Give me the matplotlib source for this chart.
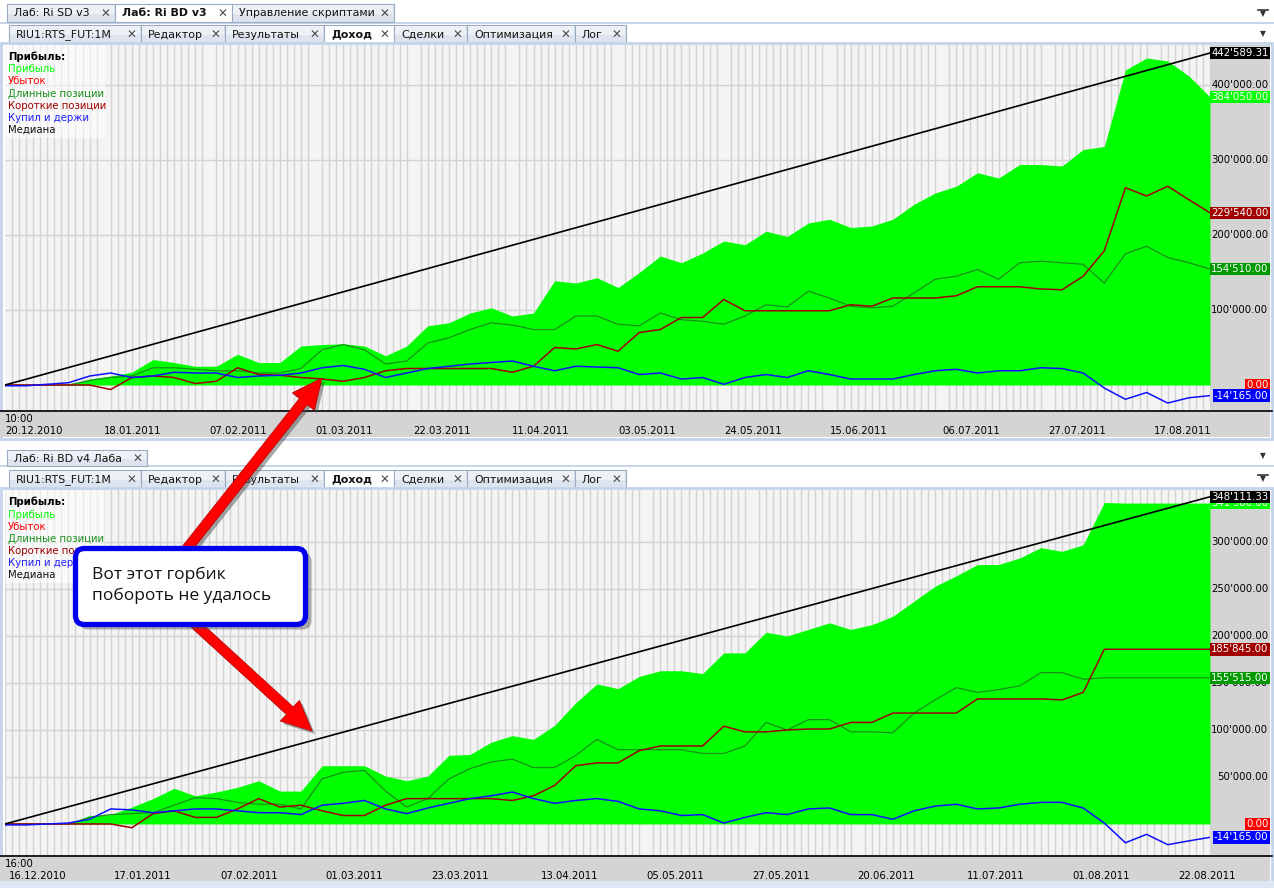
import numpy as np
import matplotlib.pyplot as plt
from matplotlib.patches import Rectangle, FancyBboxPatch, FancyArrow

plt.rcParams['font.family'] = ['DejaVu Sans']

W, H = 1274, 888

# trading day index, one sample every 3 days
days = np.arange(0, 172, 3)

# ---- top chart (Ri BD v3), values in thousands
top_profit = [0, 0, 0, 0, 8, 12, 17, 34, 30, 25, 25, 41, 30, 30, 52, 54, 55, 52, 39, 52,
              79, 83, 96, 103, 92, 96, 139, 136, 143,
              130, 150, 172, 163, 176, 192, 187, 205, 198, 216, 221, 210, 212, 221, 241, 256,
              265, 283, 276, 294, 294, 292, 314, 318, 420, 436, 432, 412, 384.05]
top_long = [0, 0, 0, 0, 6, 10, 12, 23, 23, 21, 19, 19, 16, 16, 22, 47, 54, 47, 28, 32,
            56, 63, 74, 83, 80, 74, 74, 92, 92,
            81, 79, 96, 87, 85, 81, 92, 107, 104, 125, 116, 105, 103, 105, 123, 141,
            145, 154, 141, 163, 165, 163, 161, 136, 175, 185, 170, 163, 154.51]
top_short = [0, 0, 0, 0, 0, -6, 10, 12, 10, 2, 5, 23, 14, 13, 10, 8, 5, 10, 19, 22,
             22, 22, 22, 22, 17, 25, 50, 48, 54,
             45, 70, 74, 90, 90, 114, 99, 99, 99, 99, 99, 107, 105, 116, 116, 116,
             119, 131, 131, 131, 128, 127, 145, 179, 263, 252, 265, 247, 229.54]
top_hold = [-1, -1, 1, 3, 12, 16, 10, 12, 17, 16, 16, 10, 12, 13, 16, 23, 26, 21, 10, 16,
            22, 25, 28, 30, 32, 25, 19, 25, 24,
            23, 14, 16, 8, 10, 1, 10, 14, 10, 19, 14, 8, 8, 8, 14, 19,
            21, 16, 19, 19, 23, 22, 16, -4, -19, -10, -24, -17, -14.165]
top_median = [0, 442.58931]
top_dates = ['20.12.2010', '18.01.2011', '07.02.2011', '01.03.2011', '22.03.2011', '11.04.2011',
             '03.05.2011', '24.05.2011', '15.06.2011', '06.07.2011', '27.07.2011', '17.08.2011']
top_date_pos = [0, 14, 29, 44, 58, 72, 87, 102, 117, 133, 148, 163]

# ---- bottom chart (Ri BD v4 Лаба)
bot_profit = [0, 0, 0, 0, 9, 10, 18, 27, 38, 30, 34, 39, 46, 35, 35, 62, 62, 62, 51, 46,
              51, 73, 74, 87, 94, 90, 105, 129, 149,
              144, 157, 163, 163, 160, 182, 182, 204, 200, 207, 214, 207, 212, 221, 237, 253,
              264, 276, 276, 283, 294, 290, 297, 342, 341.38, 341.38, 341.38, 341.38, 341.38]
bot_long = [0, 0, 0, 0, 7, 10, 11, 12, 20, 28, 27, 23, 21, 21, 16, 48, 55, 57, 35, 18,
            27, 48, 59, 66, 69, 60, 60, 73, 90,
            79, 79, 79, 79, 75, 75, 83, 108, 100, 111, 111, 98, 98, 97, 118, 132,
            145, 140, 143, 147, 161, 161, 154, 155.515, 155.515, 155.515, 155.515, 155.515, 155.515]
bot_short = [0, 0, 0, 0, 0, 0, -4, 11, 14, 7, 7, 16, 27, 18, 20, 14, 9, 9, 20, 27,
             27, 27, 27, 27, 25, 30, 41, 62, 65,
             65, 78, 83, 83, 83, 104, 98, 98, 100, 101, 101, 108, 108, 118, 118, 118,
             118, 133, 133, 133, 133, 132, 140, 185.845, 185.845, 185.845, 185.845, 185.845, 185.845]
bot_hold = [-1, -1, 0, 1, 5, 16, 15, 12, 14, 16, 16, 14, 12, 12, 10, 20, 22, 25, 16, 11,
            17, 22, 27, 30, 34, 27, 22, 25, 27,
            24, 16, 14, 9, 10, 1, 7, 12, 10, 16, 17, 10, 10, 5, 14, 19,
            21, 16, 17, 21, 23, 23, 17, 1, -20, -11, -22, -18, -14.165]
bot_median = [0, 348.11133]
bot_dates = ['16.12.2010', '17.01.2011', '07.02.2011', '01.03.2011', '23.03.2011', '13.04.2011',
             '05.05.2011', '27.05.2011', '20.06.2011', '11.07.2011', '01.08.2011', '22.08.2011']
bot_date_pos = [0.5, 15.5, 30.5, 45.5, 60.5, 76, 91, 106, 121, 136.5, 151.5, 166.5]

legend_items = [('Прибыль', '#00ff00'), ('Убыток', '#ff0000'), ('Длинные позиции', '#1a8f1a'),
                ('Короткие позиции', '#a00000'), ('Купил и держи', '#2020ff'), ('Медиана', '#111111')]
outer_tabs_top = ['Лаб: Ri SD v3', 'Лаб: Ri BD v3', 'Управление скриптами']
inner_tabs = ['RIU1:RTS_FUT:1M', 'Редактор', 'Результаты', 'Доход', 'Сделки', 'Оптимизация', 'Лог']
note = 'Вот этот горбик\nпобороть не удалось'


def fmt(v):
    return f"{v * 1000:,.2f}".replace(',', "'")


fig = plt.figure(figsize=(W / 100, H / 100), dpi=100)
bg = fig.add_axes([0, 0, 1, 1])
bg.set_xlim(0, W)
bg.set_ylim(H, 0)
bg.axis('off')
bg.set_zorder(0)


def tab(x0, x1, y0, y1, label, active=False):
    fc = 'white' if active else '#dde4ee'
    bg.add_patch(Rectangle((x0, y0), x1 - x0, y1 - y0, fc=fc, ec='#9aaac2', lw=0.8))
    if not active:
        bg.add_patch(Rectangle((x0 + 1, y0 + 1), x1 - x0 - 2, (y1 - y0) / 2, fc='#edf1f6', ec='none'))
    bg.text(x0 + 7, (y0 + y1) / 2 + 0.5, label, fontsize=7.9, va='center', ha='left',
            fontweight='bold' if active else 'normal', color='#111')
    bg.text(x1 - 10, (y0 + y1) / 2 + 1.5, '✕', fontsize=8.5, va='center', ha='center',
            color='#4a4a4a', fontweight='bold')


def inner_strip(y0):
    xs = [9, 141, 225, 324, 394, 467, 575, 626]
    for i, name in enumerate(inner_tabs):
        tab(xs[i], xs[i + 1], y0, y0 + 18, name, active=(name == 'Доход'))


def dropdown(x, y, bar=False):
    bg.text(x, y, '▼', fontsize=5.5, ha='center', va='center', color='#333')
    if bar:
        bg.plot([x - 5, x + 5], [y - 4, y - 4], color='#333', lw=1.2)


# window chrome
bg.add_patch(Rectangle((0, 22), W, 2, fc='#c7d6ea', ec='none'))
for i, (x0, x1) in enumerate([(7, 115), (115, 232), (232, 394)]):
    tab(x0, x1, 4, 22, outer_tabs_top[i], active=(i == 1))
dropdown(1263, 14, bar=True)
dropdown(1263, 34)
inner_strip(25)
bg.add_patch(Rectangle((1, 43), 1271, 396, fc='none', ec='#c3d4ea', lw=2))
bg.add_patch(Rectangle((0, 410), 1270, 27, fc='#d4d4d4', ec='none'))
bg.add_patch(Rectangle((1210, 45), 60, 365, fc='#d4d4d4', ec='none'))
bg.plot([0, 1272], [410.5, 410.5], color='black', lw=1.2)
bg.text(5, 419, '10:00', fontsize=7.3, va='center', ha='left')

bg.add_patch(Rectangle((0, 465), W, 2, fc='#c7d6ea', ec='none'))
tab(7, 147, 450, 466, 'Лаб: Ri BD v4 Лаба')
dropdown(1263, 456)
dropdown(1263, 479, bar=True)
inner_strip(470)
bg.add_patch(Rectangle((1, 488), 1271, 395, fc='none', ec='#c3d4ea', lw=2))
bg.add_patch(Rectangle((0, 855), 1270, 26, fc='#d4d4d4', ec='none'))
bg.add_patch(Rectangle((1210, 490), 60, 365, fc='#d4d4d4', ec='none'))
bg.add_patch(Rectangle((0, 881), W, 7, fc='#dde7f3', ec='none'))
bg.plot([0, 1272], [855.5, 855.5], color='black', lw=1.2)
bg.text(5, 864, '16:00', fontsize=7.3, va='center', ha='left')


def draw_panel(top, profit, longs, shorts, hold, median, ylim, yticks, date_pos, dates, badges):
    ax = fig.add_axes([5 / W, 1 - (top + 365) / H, 1205 / W, 365 / H])
    ax.set_zorder(2)
    ax.set_facecolor('#f4f4f4')
    ax.set_xlim(days[0], days[-1])
    ax.set_ylim(*ylim)
    ax.set_axisbelow(True)
    ax.set_xticks(np.arange(0, 172), minor=True)
    ax.set_xticks(date_pos, dates)
    ax.set_yticks(yticks)
    ax.grid(which='minor', axis='x', color='#d3d3d3', lw=1)
    ax.grid(which='major', axis='y', color='#d3d3d3', lw=1)
    ax.tick_params(which='both', length=0)
    ax.tick_params(axis='y', labelleft=False)
    ax.tick_params(axis='x', pad=11.5, labelsize=7.3)
    for lbl in ax.get_xticklabels():
        lbl.set_horizontalalignment('left')
    for s in ax.spines.values():
        s.set_visible(False)

    ax.fill_between(days, 0, profit, color='#00ff00', lw=0)
    ax.plot(days, longs, color='#1a8f1a', lw=0.9)
    ax.plot(days, shorts, color='#a00000', lw=1.1)
    ax.plot(days, hold, color='#1010ff', lw=1.1)
    ax.plot([days[0], days[-1]], median, color='black', lw=1.2)

    # legend block
    ax.add_patch(Rectangle((0, 1 - 93 / 365), 100 / 1205, 93 / 365, transform=ax.transAxes,
                           fc='white', ec='none', alpha=0.55))
    ax.text(3 / 1205, 1 - 12 / 365, 'Прибыль:', transform=ax.transAxes, fontsize=7.3,
            fontweight='bold', va='center')
    for i, (name, col) in enumerate(legend_items):
        ax.text(3 / 1205, 1 - (24.5 + 12 * i) / 365, name, transform=ax.transAxes,
                fontsize=7.3, color=col, va='center')

    # right value scale
    tr = ax.get_yaxis_transform()
    for v in yticks:
        ax.text(1.0485, v, fmt(v), transform=tr, ha='right', va='center', fontsize=7.3, clip_on=False)
    for v, col in badges:
        ax.text(1.0485, v, fmt(v), transform=tr, ha='right', va='center', fontsize=7.3,
                color='white', clip_on=False,
                bbox=dict(boxstyle='square,pad=0.12', fc=col, ec='none'))
    return ax


draw_panel(45, top_profit, top_long, top_short, top_hold, top_median, (-33.3, 453.3),
           [100, 200, 300, 400], top_date_pos, top_dates,
           [(top_median[1], 'black'), (top_profit[-1], '#00ff00'), (top_short[-1], '#a00000'),
            (top_long[-1], '#009a00'), (0, '#ff0000'), (top_hold[-1], '#0000ff')])
draw_panel(490, bot_profit, bot_long, bot_short, bot_hold, bot_median, (-33.0, 355.3),
           [50, 100, 150, 200, 250, 300], bot_date_pos, bot_dates,
           [(bot_profit[-1], '#00ff00'), (bot_median[1], 'black'), (bot_short[-1], '#a00000'),
            (bot_long[-1], '#009a00'), (0, '#ff0000'), (bot_hold[-1], '#0000ff')])

# annotation overlay: arrows and callout
ov = fig.add_axes([0, 0, 1, 1])
ov.set_xlim(0, W)
ov.set_ylim(H, 0)
ov.axis('off')
ov.set_zorder(5)

for (x0, y0, x1, y1) in [(178, 560, 322, 378), (182, 612, 312, 731)]:
    kw = dict(width=10, head_width=28, head_length=30, length_includes_head=True)
    ov.add_patch(FancyArrow(x0 + 3, y0 + 3, x1 - x0, y1 - y0, fc='#404040', ec='none', alpha=0.45, **kw))
    ov.add_patch(FancyArrow(x0, y0, x1 - x0, y1 - y0, fc='#ff0000', ec='#c00000', lw=0.6, **kw))

ov.add_patch(FancyBboxPatch((79.5, 552.5), 232, 77, boxstyle='round,pad=0,rounding_size=9',
                            fc='#505050', ec='none', alpha=0.45))
ov.add_patch(FancyBboxPatch((75.5, 548.5), 230, 76, boxstyle='round,pad=0,rounding_size=9',
                            fc='white', ec='#0000ee', lw=3.8))
ov.text(92, 585, note, fontsize=12.5, family=['Open Sans', 'DejaVu Sans'], va='center', ha='left',
        linespacing=1.4, color='#111')

fig.savefig('out.png', dpi=100)
